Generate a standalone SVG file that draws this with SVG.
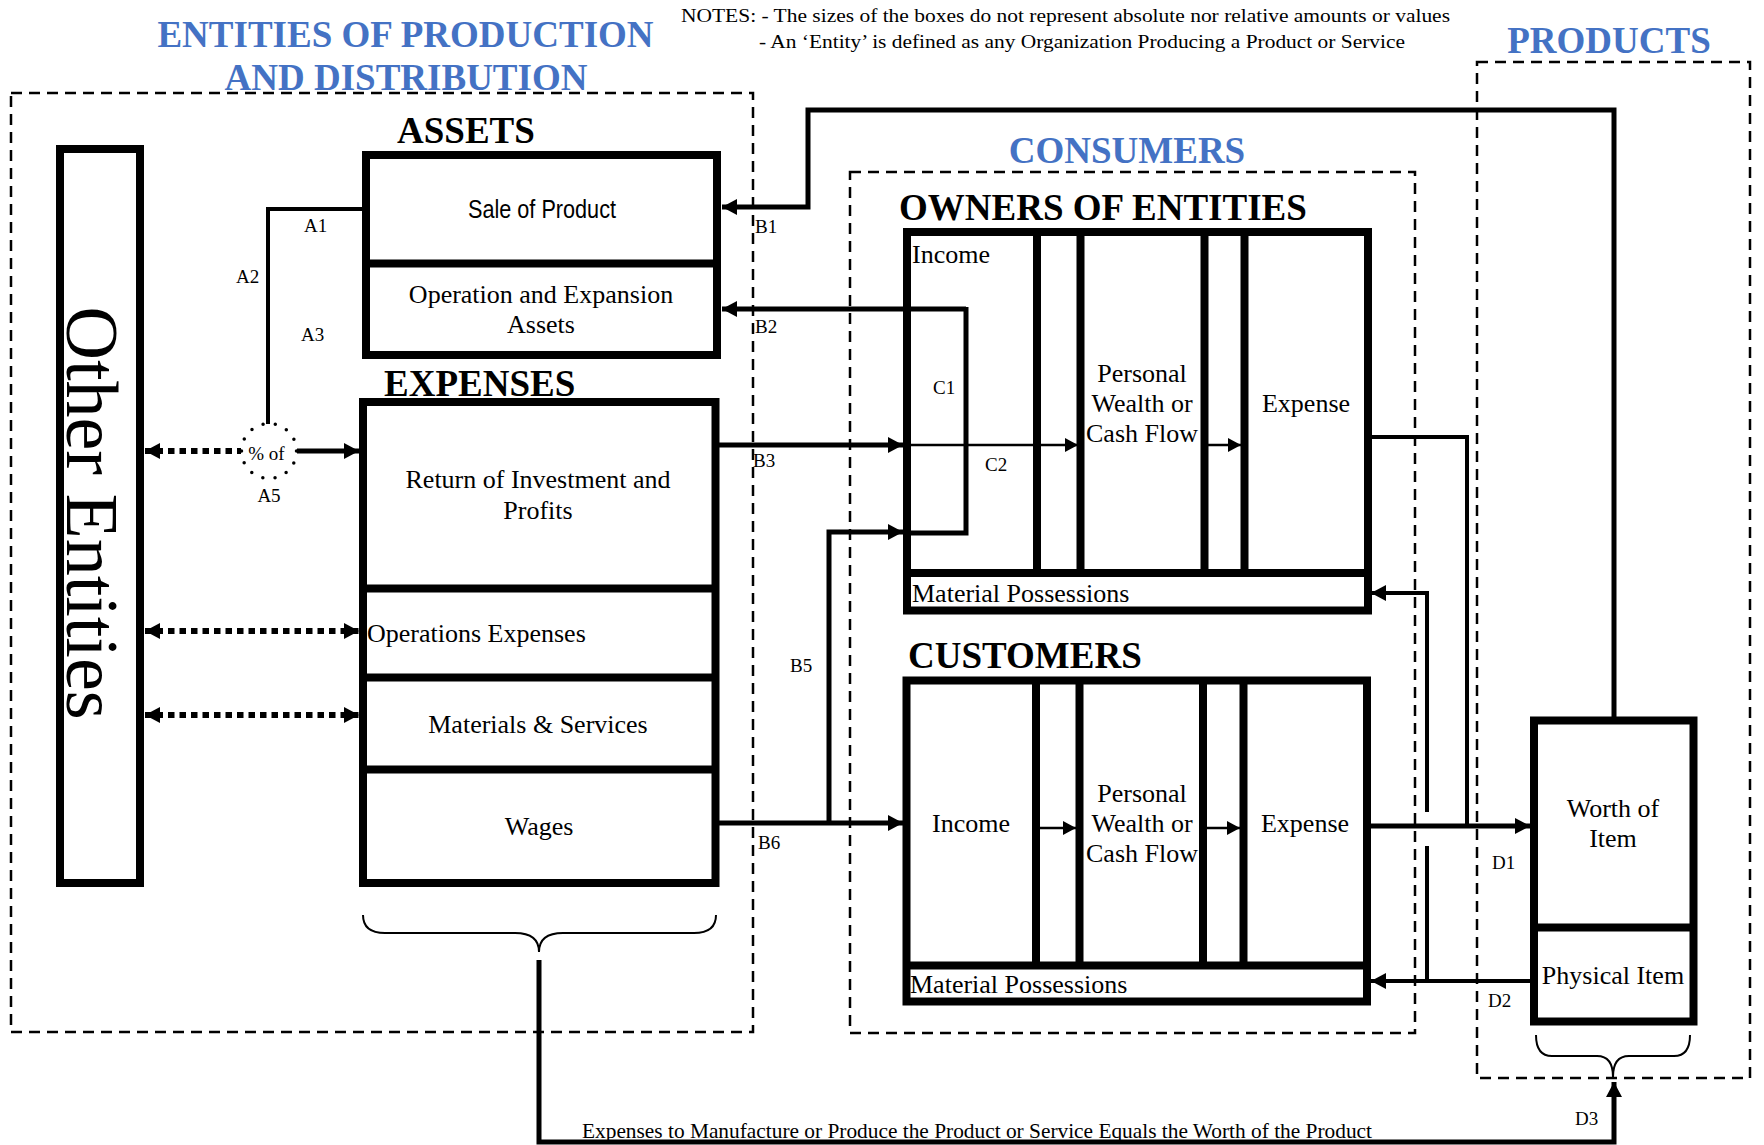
<svg xmlns="http://www.w3.org/2000/svg" width="1764" height="1145" viewBox="0 0 1764 1145">
<style>
  text { font-family: "Liberation Serif", "Times New Roman", serif; fill: #000; }
  .head { font-weight: bold; font-size: 37px; }
  .blue { fill: #4472C4; }
  .lbl { font-size: 26px; }
  .code { font-size: 19px; }
  .note { font-size: 19px; }
  .sans { font-family: "Liberation Sans Narrow", "Liberation Sans", Arial, sans-serif; font-size: 26px; }
  .box { fill: none; stroke: #000; stroke-width: 8; }
  .div { fill: none; stroke: #000; stroke-width: 8; }
  .zone { fill: none; stroke: #000; stroke-width: 2.5; stroke-dasharray: 11 7; }
  .flow { fill: none; stroke: #000; stroke-width: 5; }
  .mid { fill: none; stroke: #000; stroke-width: 4; }
  .thin { fill: none; stroke: #000; stroke-width: 2.5; }
  .dots { fill: none; stroke: #000; stroke-width: 6; stroke-dasharray: 6.5 5; }
  .ring { fill: none; stroke: #000; stroke-width: 3.5; stroke-dasharray: 0 12.34; stroke-linecap: round; }
  .brace { fill: none; stroke: #000; stroke-width: 2; }
</style>
<defs>
  <marker id="ah" markerUnits="userSpaceOnUse" viewBox="0 0 15 16" markerWidth="15" markerHeight="16" refX="15" refY="8" orient="auto-start-reverse">
    <path d="M0,0 L15,8 L0,16 z" fill="#000"/>
  </marker>
  <marker id="ahs" markerUnits="userSpaceOnUse" viewBox="0 0 13 14" markerWidth="13" markerHeight="14" refX="13" refY="7" orient="auto">
    <path d="M0,0 L13,7 L0,14 z" fill="#000"/>
  </marker>
</defs>

<rect x="0" y="0" width="1764" height="1145" fill="#fff"/>

<!-- notes -->
<g id="notes">
  <text class="note" x="681" y="22" textLength="769" lengthAdjust="spacingAndGlyphs">NOTES:  - The sizes of the boxes do not represent absolute nor relative amounts or values</text>
  <text class="note" x="759" y="48" textLength="646" lengthAdjust="spacingAndGlyphs">- An ‘Entity’ is defined as any Organization Producing a Product or Service</text>
</g>

<!-- dashed zones -->
<g id="zone-entities">
  <rect class="zone" x="11" y="93" width="742" height="939"/>
  <text class="head blue" x="405.5" y="47" text-anchor="middle">ENTITIES OF PRODUCTION</text>
  <text class="head blue" x="406" y="90" text-anchor="middle">AND DISTRIBUTION</text>
</g>
<g id="zone-consumers">
  <rect class="zone" x="850" y="172" width="565" height="861"/>
  <text class="head blue" x="1127" y="163" text-anchor="middle">CONSUMERS</text>
</g>
<g id="zone-products">
  <rect class="zone" x="1477" y="62" width="273" height="1016"/>
  <text class="head blue" x="1609" y="53" text-anchor="middle">PRODUCTS</text>
</g>

<!-- connectors -->
<g id="connectors">
  <!-- A1 / A2 : sale of product down to the percentage split -->
  <path class="mid" d="M363,209 H268 V424"/>
  <!-- percentage split into return of investment -->
  <path class="flow" d="M297,451 H359" marker-end="url(#ah)"/>
  <!-- dotted exchanges with other entities -->
  <path class="dots" d="M145,451 H241" marker-start="url(#ah)"/>
  <path class="dots" d="M145,631 H359" marker-start="url(#ah)" marker-end="url(#ah)"/>
  <path class="dots" d="M145,715 H359" marker-start="url(#ah)" marker-end="url(#ah)"/>
  <!-- B1 : worth of item back to sale of product -->
  <path class="flow" d="M1614,717 V110 H808 V207 H722" marker-end="url(#ah)"/>
  <!-- B2 and C1 -->
  <path class="flow" d="M966,309 H722" marker-end="url(#ah)"/>
  <path class="flow" d="M966,307 V533 H911"/>
  <!-- B3 : return of investment to owners -->
  <path class="flow" d="M719,445 H903" marker-end="url(#ah)"/>
  <path class="thin" d="M911,445 H1078" marker-end="url(#ahs)"/>
  <path class="thin" d="M1208,445 H1241" marker-end="url(#ahs)"/>
  <!-- B6 / B5 : wages to customers and owners -->
  <path class="flow" d="M719,823 H903" marker-end="url(#ah)"/>
  <path class="flow" d="M829,823 V532 H903" marker-end="url(#ah)"/>
  <path class="thin" d="M1040,828 H1076" marker-end="url(#ahs)"/>
  <path class="thin" d="M1207,828 H1240" marker-end="url(#ahs)"/>
  <!-- owners expense joins customer expense -->
  <path class="mid" d="M1372,437 H1467 V826"/>
  <!-- D1 : expense to worth of item -->
  <path class="flow" d="M1371,826 H1530" marker-end="url(#ah)"/>
  <!-- D2 : physical item to material possessions -->
  <path class="mid" d="M1530,981 H1371" marker-end="url(#ah)"/>
  <path class="mid" d="M1427,983 V846"/>
  <path class="mid" d="M1427,812 V593 H1371" marker-end="url(#ah)"/>
  <!-- D3 : expenses equal worth -->
  <path class="flow" d="M539,960 V1142 H1614 V1082" marker-end="url(#ah)"/>
  <!-- braces -->
  <path class="brace" d="M363,915 Q363,933 385,933 L515,933 Q539,933 539,952 Q539,933 563,933 L694,933 Q716,933 716,915"/>
  <path class="brace" d="M1536,1035 Q1536,1056 1552,1056 L1597,1056 Q1613,1056 1613,1077 Q1613,1056 1629,1056 L1674,1056 Q1690,1056 1690,1035"/>
</g>

<!-- connector labels -->
<g id="connector-labels">
  <text class="code" x="304" y="232">A1</text>
  <text class="code" x="236" y="283">A2</text>
  <text class="code" x="301" y="341">A3</text>
  <text class="code" x="269" y="502" text-anchor="middle">A5</text>
  <text class="code" x="755" y="233">B1</text>
  <text class="code" x="755" y="333">B2</text>
  <text class="code" x="753" y="467">B3</text>
  <text class="code" x="790" y="672">B5</text>
  <text class="code" x="758" y="849">B6</text>
  <text class="code" x="933" y="394">C1</text>
  <text class="code" x="985" y="471">C2</text>
  <text class="code" x="1492" y="869">D1</text>
  <text class="code" x="1488" y="1007">D2</text>
  <text class="code" x="1575" y="1125">D3</text>
  <text x="582" y="1138" font-size="21" textLength="790" lengthAdjust="spacingAndGlyphs">Expenses to Manufacture or Produce the Product or Service Equals the Worth of the Product</text>
</g>

<!-- other entities -->
<g id="other-entities">
  <rect class="box" x="60" y="149" width="80" height="734" fill="#fff"/>
  <text x="0" y="0" font-size="74" text-anchor="middle" transform="translate(67,513) rotate(90)">Other Entities</text>
</g>

<!-- percentage split -->
<g id="pct-split">
  <circle class="ring" cx="269" cy="451" r="27.5"/>
  <text x="266.5" y="460" font-size="19" text-anchor="middle">% of</text>
</g>

<!-- assets -->
<g id="assets">
  <text class="head" x="397" y="143">ASSETS</text>
  <rect class="box" x="366" y="155" width="351" height="200"/>
  <line class="div" x1="366" y1="263.5" x2="717" y2="263.5" stroke-width="9"/>
  <text class="sans" x="468" y="218" textLength="148" lengthAdjust="spacingAndGlyphs">Sale of Product</text>
  <text class="lbl" x="541" y="303" text-anchor="middle">Operation and Expansion</text>
  <text class="lbl" x="541" y="333" text-anchor="middle">Assets</text>
</g>

<!-- expenses -->
<g id="expenses">
  <text class="head" x="384" y="396">EXPENSES</text>
  <rect class="box" x="363" y="402" width="352.5" height="481"/>
  <line class="div" x1="363" y1="588.5" x2="715.5" y2="588.5" stroke-width="9"/>
  <line class="div" x1="363" y1="677.5" x2="715.5" y2="677.5"/>
  <line class="div" x1="363" y1="769.5" x2="715.5" y2="769.5"/>
  <text class="lbl" x="538" y="488" text-anchor="middle">Return of Investment and</text>
  <text class="lbl" x="538" y="519" text-anchor="middle">Profits</text>
  <text class="lbl" x="367" y="642">Operations Expenses</text>
  <text class="lbl" x="538" y="733" text-anchor="middle">Materials &amp; Services</text>
  <text class="lbl" x="539" y="835" text-anchor="middle">Wages</text>
</g>

<!-- owners of entities -->
<g id="owners">
  <text class="head" x="899" y="220">OWNERS OF ENTITIES</text>
  <rect class="box" x="907" y="232" width="461" height="378.5"/>
  <line class="div" x1="907" y1="573" x2="1368" y2="573"/>
  <line class="div" x1="1037" y1="232" x2="1037" y2="573"/>
  <line class="div" x1="1080.5" y1="232" x2="1080.5" y2="573"/>
  <line class="div" x1="1204.5" y1="232" x2="1204.5" y2="573"/>
  <line class="div" x1="1244.5" y1="232" x2="1244.5" y2="573"/>
  <text class="lbl" x="912" y="263">Income</text>
  <text class="lbl" x="1142" y="382" text-anchor="middle">Personal</text>
  <text class="lbl" x="1142" y="412" text-anchor="middle">Wealth or</text>
  <text class="lbl" x="1142" y="442" text-anchor="middle">Cash Flow</text>
  <text class="lbl" x="1306" y="412" text-anchor="middle">Expense</text>
  <text class="lbl" x="912" y="602">Material Possessions</text>
</g>

<!-- customers -->
<g id="customers">
  <text class="head" x="908" y="668">CUSTOMERS</text>
  <rect class="box" x="906.5" y="680.5" width="460.5" height="321"/>
  <line class="div" x1="906.5" y1="965.5" x2="1367" y2="965.5"/>
  <line class="div" x1="1036" y1="680.5" x2="1036" y2="965.5"/>
  <line class="div" x1="1079.5" y1="680.5" x2="1079.5" y2="965.5"/>
  <line class="div" x1="1203" y1="680.5" x2="1203" y2="965.5"/>
  <line class="div" x1="1243.5" y1="680.5" x2="1243.5" y2="965.5"/>
  <text class="lbl" x="971" y="832" text-anchor="middle">Income</text>
  <text class="lbl" x="1142" y="802" text-anchor="middle">Personal</text>
  <text class="lbl" x="1142" y="832" text-anchor="middle">Wealth or</text>
  <text class="lbl" x="1142" y="862" text-anchor="middle">Cash Flow</text>
  <text class="lbl" x="1305" y="832" text-anchor="middle">Expense</text>
  <text class="lbl" x="910" y="993">Material Possessions</text>
</g>

<!-- product item -->
<g id="product-item">
  <rect class="box" x="1534" y="720.5" width="159.5" height="301"/>
  <line class="div" x1="1534" y1="927.5" x2="1693.5" y2="927.5" stroke-width="9"/>
  <text class="lbl" x="1613" y="817" text-anchor="middle">Worth of</text>
  <text class="lbl" x="1613" y="847" text-anchor="middle">Item</text>
  <text class="lbl" x="1613" y="984" text-anchor="middle">Physical Item</text>
</g>
</svg>
